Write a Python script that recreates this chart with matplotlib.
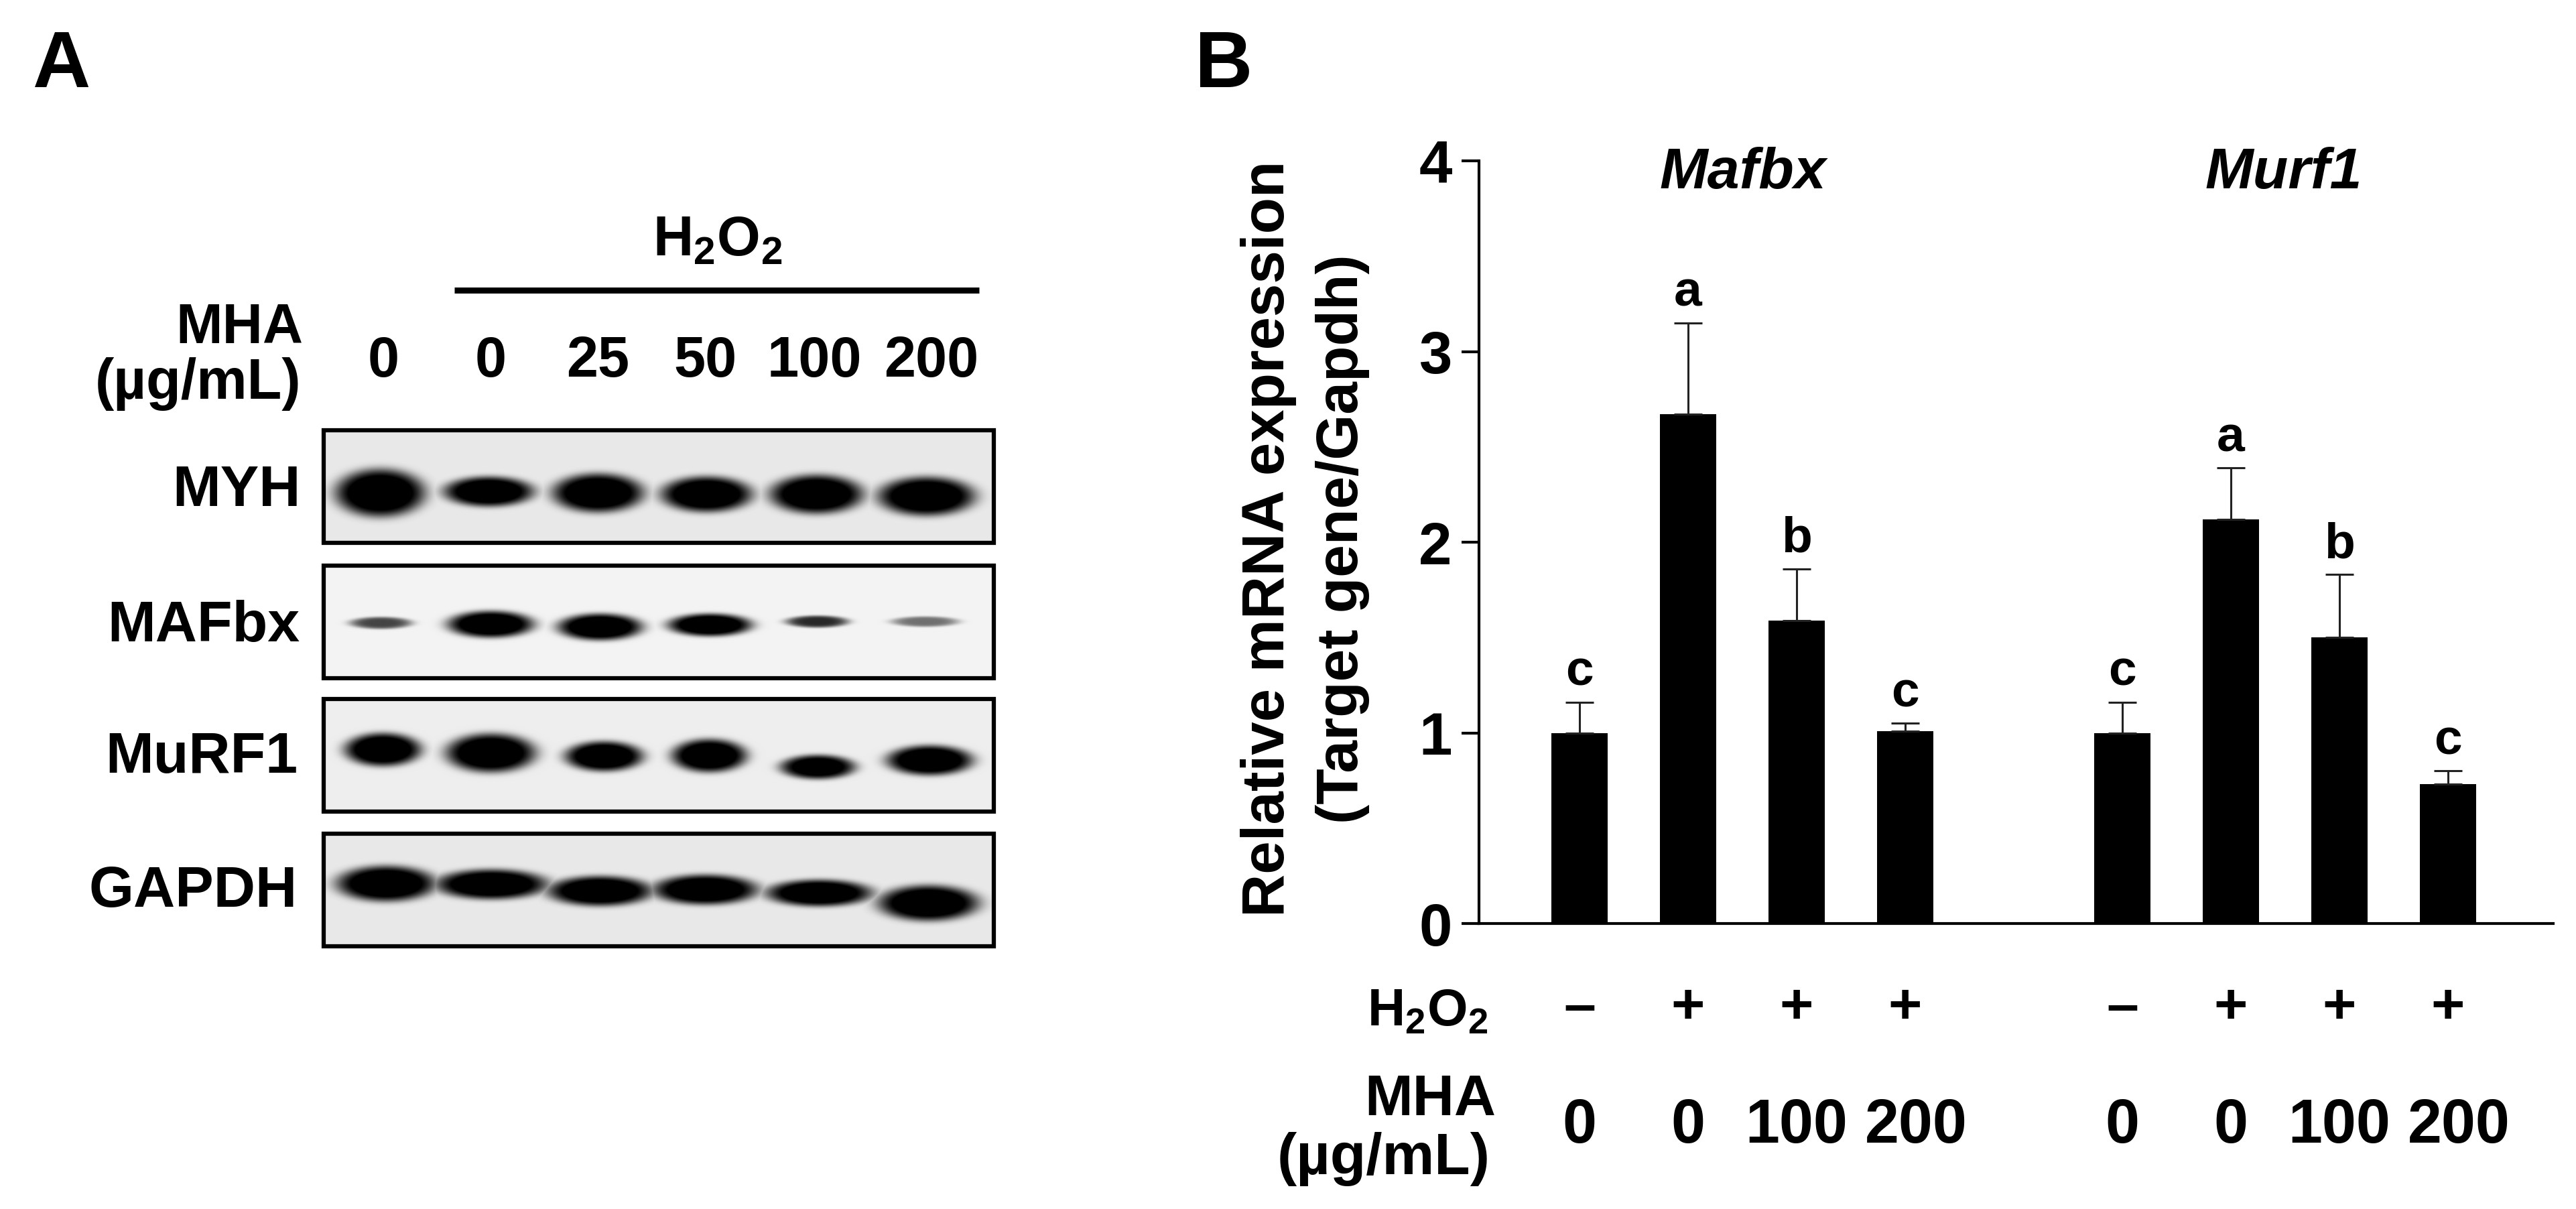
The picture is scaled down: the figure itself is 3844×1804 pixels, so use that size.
import matplotlib
matplotlib.use("Agg")
import matplotlib.pyplot as plt
from matplotlib.transforms import blended_transform_factory
import numpy as np

plt.rcParams['font.family'] = ['Liberation Sans', 'DejaVu Sans']
plt.rcParams['font.weight'] = 'bold'
plt.rcParams['mathtext.fontset'] = 'custom'
plt.rcParams['mathtext.bf'] = 'Liberation Sans:bold'
plt.rcParams['mathtext.rm'] = 'Liberation Sans:bold'

W, H = 3844, 1804

# panel B values
positions = [0, 1, 2, 3, 5, 6, 7, 8]
means = [1.0, 2.67, 1.59, 1.01, 1.0, 2.12, 1.50, 0.73]
err_top = [1.16, 3.15, 1.86, 1.05, 1.16, 2.39, 1.83, 0.80]
letters = ['c', 'a', 'b', 'c', 'c', 'a', 'b', 'c']
h2o2_signs = ['\u2013', '+', '+', '+', '\u2013', '+', '+', '+']
mha_doses = ['0', '0', '100', '200', '0', '0', '100', '200']

# panel A
blot_names = ['MYH', 'MAFbx', 'MuRF1', 'GAPDH']
blot_doses = ['0', '0', '25', '50', '100', '200']
blot_tops = [642, 844, 1043, 1244]
blot_bg = [0.91, 0.95, 0.93, 0.91]
band_x = [[567, 729, 892, 1054, 1218, 1382],
          [568, 732, 895, 1059, 1219, 1380],
          [571, 732, 901, 1058, 1220, 1387],
          [576, 733, 895, 1052, 1222, 1385]]
band_y = [[735, 733, 735, 737, 737, 740],
          [929, 931, 935, 932, 927, 927],
          [1118, 1123, 1128, 1127, 1144, 1134],
          [1318, 1319, 1329, 1327, 1332, 1347]]
band_w = [[123, 123, 125, 125, 128, 133],
          [85, 118, 116, 115, 86, 92],
          [105, 123, 107, 103, 103, 118],
          [136, 154, 144, 144, 145, 138]]
band_h = [[59, 37, 48, 44, 48, 48],
          [15, 33, 33, 28, 15, 13],
          [41, 48, 37, 41, 30, 37],
          [44, 37, 37, 37, 33, 44]]
band_dark = [[1, 1, 1, 1, 1, 1],
             [0.6, 1, 1, 1, 0.7, 0.45],
             [1, 1, 1, 1, 0.95, 1],
             [1, 1, 1, 1, 1, 1]]

fig = plt.figure(figsize=(W / 100, H / 100), dpi=100, facecolor='white')

# full figure axes in pixel coordinates, for the blots and the loose labels
page = fig.add_axes([0, 0, 1, 1])
page.set_xlim(0, W)
page.set_ylim(H, 0)
page.axis('off')

page.text(91, 100, 'A', fontsize=86, ha='center', va='center')
page.text(1826, 100, 'B', fontsize=86, ha='center', va='center')

# blots
left, right, blot_h = 483, 1483, 168
for i in range(4):
    top = blot_tops[i]
    xx, yy = np.meshgrid(np.arange(left, right), np.arange(top, top + blot_h))
    dark = np.zeros(xx.shape)
    for cx, cy, bw, bh, d in zip(band_x[i], band_y[i], band_w[i], band_h[i], band_dark[i]):
        r = ((xx - cx) / (bw * 1.04 / 2)) ** 2 + ((yy - cy) / (bh * 1.15 / 2)) ** 2
        dark = np.maximum(dark, d * np.exp(-r ** 2.5 * 0.8))
    img = blot_bg[i] * (1 - np.clip(dark * 1.2, 0, 1))
    page.imshow(img, cmap='gray', vmin=0, vmax=1, aspect='auto', interpolation='bilinear',
                extent=(left, right, top + blot_h, top))
    page.add_patch(plt.Rectangle((left, top), right - left, blot_h, fill=False,
                                 edgecolor='black', linewidth=4.5))
page.set_xlim(0, W)
page.set_ylim(H, 0)

for name, y, x in zip(blot_names, [733, 935, 1131, 1331], [449, 447, 444, 444]):
    page.text(x, y, name, fontsize=62, ha='right', va='center')
page.text(452, 490, 'MHA', fontsize=60, ha='right', va='center')
page.text(449, 573, '(\u00b5g/mL)', fontsize=61, ha='right', va='center')
for dose, x in zip(blot_doses, [572, 732, 892, 1053, 1215, 1390]):
    page.text(x, 540, dose, fontsize=61, ha='center', va='center')
page.plot([678, 1461], [433, 433], color='black', linewidth=6.5, solid_capstyle='butt')
page.text(1071, 360, r'$\mathbf{H_2O_2}$', fontsize=60, ha='center', va='center')

# panel B bars
x0, x1, y_top, y_bot = 2207, 3810, 240, 1378
ax = fig.add_axes([x0 / W, 1 - y_bot / H, (x1 - x0) / W, (y_bot - y_top) / H])
ax.patch.set_alpha(0)
ax.bar(positions, means, width=0.515, color='black')
upper = np.array(err_top) - np.array(means)
ax.errorbar(positions, means, yerr=[np.zeros(8), upper], fmt='none', ecolor='#222222',
            elinewidth=2.2, capsize=15, capthick=2.2)
ax.set_xlim(-0.926, 8.969)
ax.set_ylim(0, 4)
ax.set_xticks([])
ax.set_yticks([0, 1, 2, 3, 4])
ax.tick_params(axis='y', length=19, width=3, labelsize=64, pad=10)
ax.spines['top'].set_visible(False)
ax.spines['right'].set_visible(False)
ax.spines['left'].set_linewidth(3)
ax.spines['bottom'].set_linewidth(3)

for p, e, s in zip(positions, err_top, letters):
    ax.annotate(s, (p, e), xytext=(0, 18), textcoords='offset points', ha='center',
                va='baseline', fontsize=54)

page.text(2601, 259, 'Mafbx', fontsize=62, style='italic', ha='center', va='center')
page.text(3408, 259, 'Murf1', fontsize=62, style='italic', ha='center', va='center')

page.text(1893, 804, 'Relative mRNA expression', fontsize=64, rotation=90, ha='center', va='center')
page.text(2003, 804, '(Target gene/Gapdh)', fontsize=63, rotation=90, ha='center', va='center')

# treatment rows under the bars
row = blended_transform_factory(ax.transData, page.transData)
for p, s, d in zip(positions, h2o2_signs, mha_doses):
    ax.text(p, 1505, s, transform=row, fontsize=62, ha='center', va='center', clip_on=False)
    # the 200 labels sit a little right of their bars
    shift = 0.1 if d == '200' else 0
    ax.text(p + shift, 1681, d, transform=row, fontsize=66, ha='center', va='center', clip_on=False)

page.text(2220, 1510, r'$\mathbf{H_2O_2}$', fontsize=56, ha='right', va='center')
page.text(2232, 1642, 'MHA', fontsize=62, ha='right', va='center')
page.text(2224, 1730, '(\u00b5g/mL)', fontsize=63, ha='right', va='center')

fig.savefig('out.png', dpi=100)
